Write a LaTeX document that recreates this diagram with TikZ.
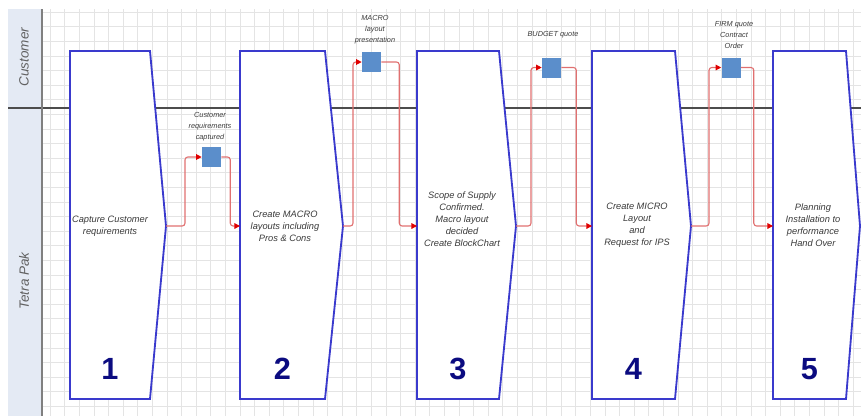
\documentclass[tikz,border=0pt]{standalone}
\usepackage{fontspec}
\setmainfont{Liberation Sans}
\usetikzlibrary{arrows.meta, positioning}
\definecolor{tpBlue}{HTML}{3A3ACD}
\definecolor{tpNavy}{HTML}{0B0B80}
\definecolor{tpSquare}{HTML}{5B8ECB}
\definecolor{tpRed}{HTML}{E00000}
\definecolor{tpPink}{HTML}{E07070}
\definecolor{tpLane}{HTML}{E4EAF4}
\definecolor{tpGrid}{HTML}{E4E4E4}
\definecolor{tpGrey}{HTML}{3A3A3A}
\tikzset{
  % one unit is one pixel of the swim-lane sheet, y runs downwards
  stepbox/.style  = {draw=tpBlue, fill=white, line width=1.3pt, line join=miter},
  numlbl/.style   = {font=\fontsize{21.8}{22}\selectfont\bfseries, text=tpNavy},
  steptext/.style = {align=center, font=\fontsize{6.6}{8.5}\selectfont\itshape, text=tpGrey},
  doclbl/.style   = {align=center, font=\fontsize{5.2}{7.8}\selectfont\itshape, text=tpGrey, inner sep=0pt},
  docbox/.style   = {fill=tpSquare, minimum width=0.475cm, minimum height=0.5cm, inner sep=0pt},
  flow/.style     = {tpPink, line width=0.8pt, rounded corners=2pt,
                     -{Triangle[length=4pt, width=4pt, color=tpRed]}},
  lanelbl/.style  = {rotate=90, font=\fontsize{9.6}{10}\selectfont\itshape, text=black!62},
  gridline/.style = {tpGrid, line width=0.4pt},
}

\begin{document}
\begin{tikzpicture}[x=0.025cm, y=-0.025cm]
  \useasboundingbox (0,0) rectangle (861,416);
  % lane header and background grid
  \fill[tpLane] (8,9) rectangle (42,416);
  \foreach \gx in {50,64.6,...,861}
    \draw[gridline] (\gx,9) -- (\gx,416);
  \foreach \gy in {12,26.6,...,416}
    \draw[gridline] (42,\gy) -- (861,\gy);
  \draw[line width=1.3pt, black!70] (8,108) -- (861,108);
  \draw[line width=1.5pt, black!50] (42,9) -- (42,416);
  \node[lanelbl] (customer) at (24,57) {Customer};
  \node[lanelbl] (tetrapak) at (24,281) {Tetra Pak};

  % the five steps
  \foreach \n/\l/\r/\t in {1/70/150/166, 2/240/325/343, 3/417/499/516,
      4/592/675/691, 5/773/846/860} {
    \draw[stepbox] (\l,51) -- (\r,51) -- (\t,226) -- (\r,399) -- (\l,399) -- cycle;
    \coordinate (in\n) at (\l,226);
    \coordinate (tip\n) at (\t,226);
    \node[numlbl] (num\n) at ({(\l+\r)/2},369) {\n};
  }
  \node[steptext] (text1) at (110,226) {Capture Customer\\requirements};
  \node[steptext] (text2) at (285,226) {Create MACRO\\layouts including\\Pros \& Cons};
  \node[steptext] (text3) at (462,219) {Scope of Supply\\Confirmed.\\Macro layout\\decided\\Create BlockChart};
  \node[steptext] (text4) at (637,225) {Create MICRO\\Layout\\and\\Request for IPS};
  \node[steptext] (text5) at (813,225) {Planning\\Installation to\\performance\\Hand Over};

  % documents handed over between the steps
  \node[docbox] (doc1) at (211.5,157) {};
  \node[docbox] (doc2) at (371.5,62) {};
  \node[docbox] (doc3) at (551.5,67.5) {};
  \node[docbox] (doc4) at (731,67.5) {};
  \node[doclbl] (lbl1) at (210,127) {Customer\\requirements\\captured};
  \node[doclbl] (lbl2) at (375,29.5) {MACRO\\layout\\presentation};
  \node[doclbl] (lbl3) at (553,35) {BUDGET quote};
  \node[doclbl] (lbl4) at (734,35) {FIRM quote\\Contract\\Order};

  \foreach \a/\b/\da/\db in {1/2/19/9, 2/3/10/18, 3/4/15/15, 4/5/18/13} {
    \draw[flow] (tip\a) -- ++(\da,0) |- (doc\a.west);
    \draw[flow] (doc\a.east) -- ++(\db,0) |- (in\b);
  }
\end{tikzpicture}
\end{document}
